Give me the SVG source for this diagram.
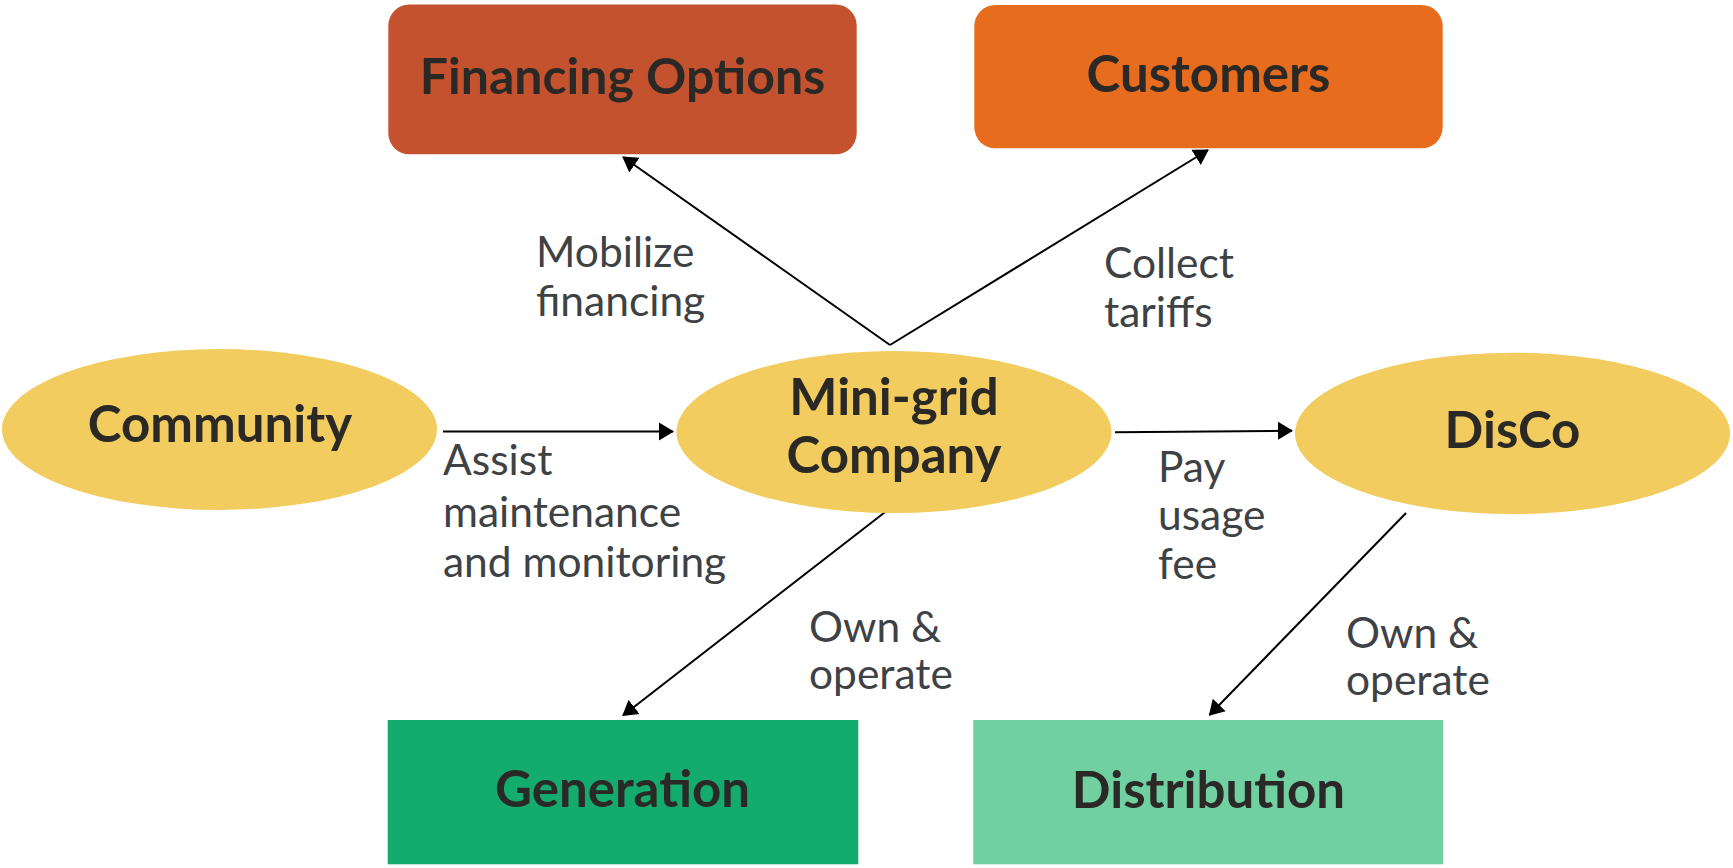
<svg xmlns="http://www.w3.org/2000/svg" width="1733" height="868" viewBox="0 0 1733 868">
<style>
.t{font-family:Lato,"Liberation Sans",sans-serif;font-weight:700;fill:#2b2926;text-anchor:middle;font-size:51px}
.l{font-family:Lato,"Liberation Sans",sans-serif;font-weight:400;fill:#3e4244;font-size:42.5px}
.c{stroke:#000;stroke-width:2;fill:none;marker-end:url(#ah)}
.e{fill:#f2cc5e}
</style>
<defs>
<marker id="ah" markerUnits="userSpaceOnUse" markerWidth="16" markerHeight="20" refX="14" refY="9" orient="auto" viewBox="0 0 16 18">
<path d="M0,0 L15,9 L0,18 Z" fill="#000"/>
</marker>
</defs>
<rect width="1733" height="868" fill="#fff"/>
<g id="connectors">
<line class="c" x1="443" y1="431.5" x2="673" y2="431.5"/>
<line class="c" x1="1115" y1="432.3" x2="1292" y2="430.7"/>
<path d="M890,345 L623,157" class="c"/>
<path d="M890,345 L1208,150" class="c"/>
<line class="c" x1="885.5" y1="511.7" x2="623" y2="715.5"/>
<line class="c" x1="1406" y1="513" x2="1209.5" y2="715"/>
</g>
<g id="financing">
<rect x="388.3" y="4.5" width="468.4" height="149.8" rx="21" fill="#c5522e"/>
<text class="t" x="622.5" y="94.3" style="font-size:50px">Financing Options</text>
</g>
<g id="customers">
<rect x="974.3" y="5" width="468.4" height="143.3" rx="21" fill="#e76c1e"/>
<text class="t" x="1208.5" y="91.7">Customers</text>
</g>
<g id="community">
<ellipse class="e" cx="219.5" cy="429.5" rx="217.5" ry="80.5"/>
<text class="t" x="220" y="441.7">Community</text>
</g>
<g id="minigrid">
<ellipse class="e" cx="894" cy="432" rx="217.5" ry="81"/>
<text class="t" x="894" y="415">Mini-grid</text>
<text class="t" x="894" y="473.3">Company</text>
</g>
<g id="disco">
<ellipse class="e" cx="1512.5" cy="433.4" rx="217.5" ry="80.7"/>
<text class="t" x="1512.5" y="448.3">DisCo</text>
</g>
<g id="generation">
<rect x="387.7" y="720" width="470.6" height="144.3" fill="#14ab6f"/>
<text class="t" x="622.5" y="807.3">Generation</text>
</g>
<g id="distribution">
<rect x="973.3" y="720" width="470" height="144.3" fill="#70d0a2"/>
<text class="t" x="1208.5" y="807.7">Distribution</text>
</g>
<g id="labels">
<text class="l" x="536" y="266.7">Mobilize</text>
<text class="l" x="536" y="315.7">financing</text>
<text class="l" x="1104" y="278.3">Collect</text>
<text class="l" x="1104" y="327.3">tariffs</text>
<text class="l" x="443" y="475">Assist</text>
<text class="l" x="443" y="526.7">maintenance</text>
<text class="l" x="443" y="576.7">and monitoring</text>
<text class="l" x="1158" y="481.7">Pay</text>
<text class="l" x="1158" y="530">usage</text>
<text class="l" x="1158" y="579.3">fee</text>
<text class="l" x="809" y="642">Own &amp;</text>
<text class="l" x="809" y="689">operate</text>
<text class="l" x="1346" y="648.3">Own &amp;</text>
<text class="l" x="1346" y="695">operate</text>
</g>
</svg>
